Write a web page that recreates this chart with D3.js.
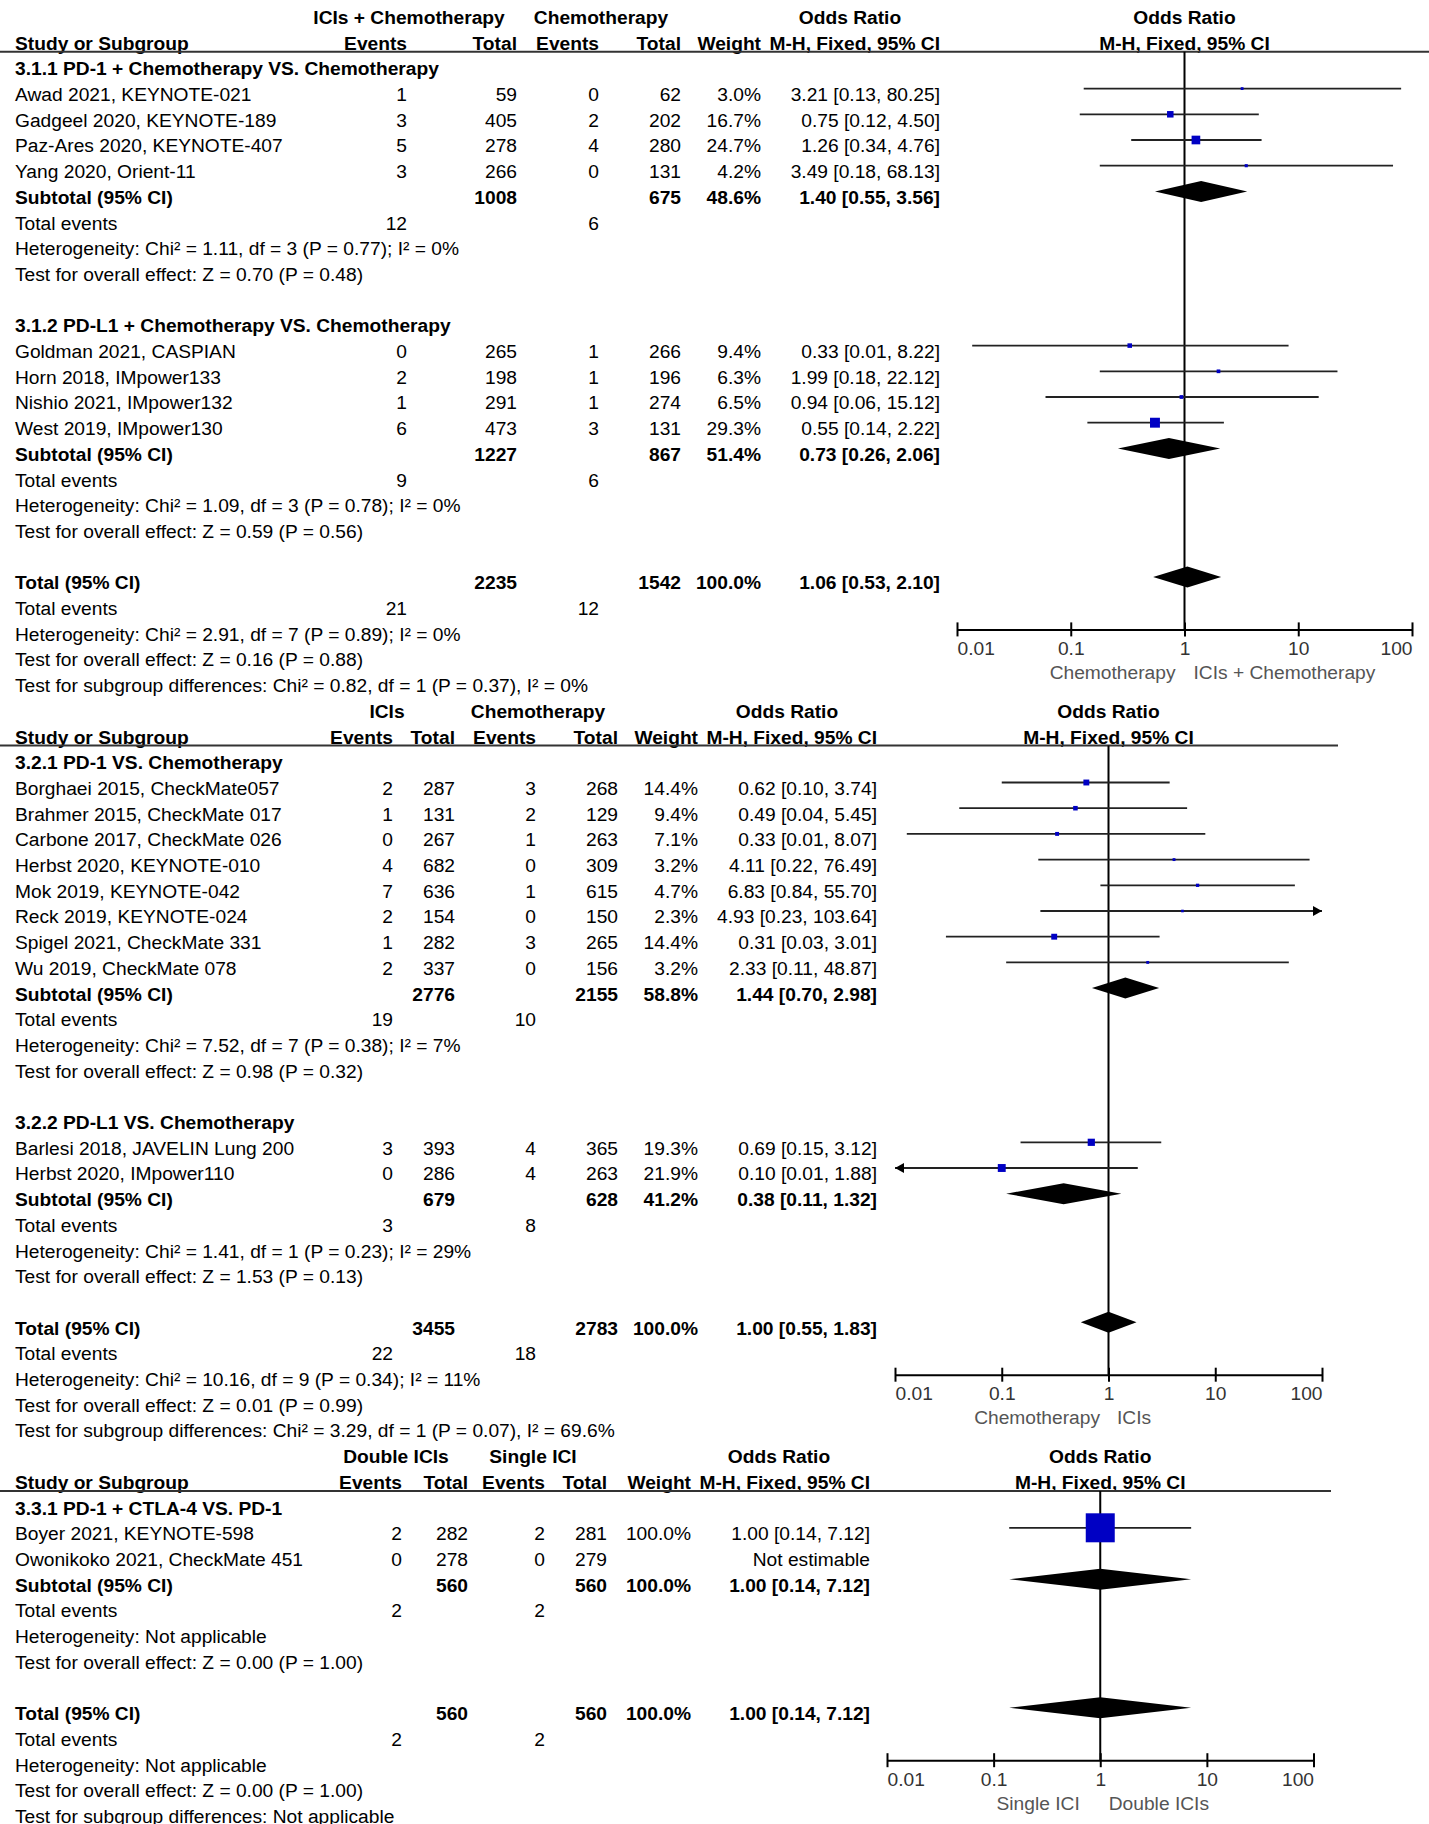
<!DOCTYPE html>
<html><head><meta charset="utf-8">
<script src="https://cdn.jsdelivr.net/npm/d3@7"></script>
<style>
html,body{margin:0;padding:0;background:#fff;}
svg text{font-family:"Liberation Sans",Arial,Helvetica,sans-serif;font-size:19.2px;fill:#000;}
</style></head><body>
<svg id="chart" width="1429" height="1824"></svg>
<script>
// ---------------- DATA ----------------
const axisTicks = [0.01, 0.1, 1, 10, 100];
const axisTickLabels = ["0.01", "0.1", "1", "10", "100"];

// Panel 1
const p1ArmLabels = ["ICIs + Chemotherapy", "Chemotherapy"];
const p1Direction = ["Chemotherapy", "ICIs + Chemotherapy"];
const p1Groups = ["3.1.1 PD-1 + Chemotherapy VS. Chemotherapy", "3.1.2 PD-L1 + Chemotherapy VS. Chemotherapy"];
const p1Studies = [
  {g:0, name:"Awad 2021, KEYNOTE-021", evE:1, totE:59, evC:0, totC:62, w:3.0, or:3.21, lo:0.13, hi:80.25},
  {g:0, name:"Gadgeel 2020, KEYNOTE-189", evE:3, totE:405, evC:2, totC:202, w:16.7, or:0.75, lo:0.12, hi:4.50},
  {g:0, name:"Paz-Ares 2020, KEYNOTE-407", evE:5, totE:278, evC:4, totC:280, w:24.7, or:1.26, lo:0.34, hi:4.76},
  {g:0, name:"Yang 2020, Orient-11", evE:3, totE:266, evC:0, totC:131, w:4.2, or:3.49, lo:0.18, hi:68.13},
  {g:1, name:"Goldman 2021, CASPIAN", evE:0, totE:265, evC:1, totC:266, w:9.4, or:0.33, lo:0.0136, hi:8.22},
  {g:1, name:"Horn 2018, IMpower133", evE:2, totE:198, evC:1, totC:196, w:6.3, or:1.99, lo:0.18, hi:22.12},
  {g:1, name:"Nishio 2021, IMpower132", evE:1, totE:291, evC:1, totC:274, w:6.5, or:0.94, lo:0.06, hi:15.12},
  {g:1, name:"West 2019, IMpower130", evE:6, totE:473, evC:3, totC:131, w:29.3, or:0.55, lo:0.14, hi:2.22}
];
const p1Subtotals = [
  {totE:1008, totC:675, w:48.6, or:1.40, lo:0.55, hi:3.56, evE:12, evC:6,
   het:"Heterogeneity: Chi\u00b2 = 1.11, df = 3 (P = 0.77); I\u00b2 = 0%", test:"Test for overall effect: Z = 0.70 (P = 0.48)"},
  {totE:1227, totC:867, w:51.4, or:0.73, lo:0.26, hi:2.06, evE:9, evC:6,
   het:"Heterogeneity: Chi\u00b2 = 1.09, df = 3 (P = 0.78); I\u00b2 = 0%", test:"Test for overall effect: Z = 0.59 (P = 0.56)"}
];
const p1Overall = {totE:2235, totC:1542, w:100.0, or:1.06, lo:0.53, hi:2.10, evE:21, evC:12,
  het:"Heterogeneity: Chi\u00b2 = 2.91, df = 7 (P = 0.89); I\u00b2 = 0%",
  test:"Test for overall effect: Z = 0.16 (P = 0.88)",
  sub:"Test for subgroup differences: Chi\u00b2 = 0.82, df = 1 (P = 0.37), I\u00b2 = 0%"};

// Panel 2
const p2ArmLabels = ["ICIs", "Chemotherapy"];
const p2Direction = ["Chemotherapy", "ICIs"];
const p2Groups = ["3.2.1 PD-1 VS. Chemotherapy", "3.2.2 PD-L1 VS. Chemotherapy"];
const p2Studies = [
  {g:0, name:"Borghaei 2015, CheckMate057", evE:2, totE:287, evC:3, totC:268, w:14.4, or:0.62, lo:0.10, hi:3.74},
  {g:0, name:"Brahmer 2015, CheckMate 017", evE:1, totE:131, evC:2, totC:129, w:9.4, or:0.49, lo:0.04, hi:5.45},
  {g:0, name:"Carbone 2017, CheckMate 026", evE:0, totE:267, evC:1, totC:263, w:7.1, or:0.33, lo:0.0129, hi:8.07},
  {g:0, name:"Herbst 2020, KEYNOTE-010", evE:4, totE:682, evC:0, totC:309, w:3.2, or:4.11, lo:0.22, hi:76.49},
  {g:0, name:"Mok 2019, KEYNOTE-042", evE:7, totE:636, evC:1, totC:615, w:4.7, or:6.83, lo:0.84, hi:55.70},
  {g:0, name:"Reck 2019, KEYNOTE-024", evE:2, totE:154, evC:0, totC:150, w:2.3, or:4.93, lo:0.23, hi:103.64},
  {g:0, name:"Spigel 2021, CheckMate 331", evE:1, totE:282, evC:3, totC:265, w:14.4, or:0.31, lo:0.03, hi:3.01},
  {g:0, name:"Wu 2019, CheckMate 078", evE:2, totE:337, evC:0, totC:156, w:3.2, or:2.33, lo:0.11, hi:48.87},
  {g:1, name:"Barlesi 2018, JAVELIN Lung 200", evE:3, totE:393, evC:4, totC:365, w:19.3, or:0.69, lo:0.15, hi:3.12},
  {g:1, name:"Herbst 2020, IMpower110", evE:0, totE:286, evC:4, totC:263, w:21.9, or:0.10, lo:0.006, hi:1.88}
];
const p2Subtotals = [
  {totE:2776, totC:2155, w:58.8, or:1.44, lo:0.70, hi:2.98, evE:19, evC:10,
   het:"Heterogeneity: Chi\u00b2 = 7.52, df = 7 (P = 0.38); I\u00b2 = 7%", test:"Test for overall effect: Z = 0.98 (P = 0.32)"},
  {totE:679, totC:628, w:41.2, or:0.38, lo:0.11, hi:1.32, evE:3, evC:8,
   het:"Heterogeneity: Chi\u00b2 = 1.41, df = 1 (P = 0.23); I\u00b2 = 29%", test:"Test for overall effect: Z = 1.53 (P = 0.13)"}
];
const p2Overall = {totE:3455, totC:2783, w:100.0, or:1.00, lo:0.55, hi:1.83, evE:22, evC:18,
  het:"Heterogeneity: Chi\u00b2 = 10.16, df = 9 (P = 0.34); I\u00b2 = 11%",
  test:"Test for overall effect: Z = 0.01 (P = 0.99)",
  sub:"Test for subgroup differences: Chi\u00b2 = 3.29, df = 1 (P = 0.07), I\u00b2 = 69.6%"};

// Panel 3
const p3ArmLabels = ["Double ICIs", "Single ICI"];
const p3Direction = ["Single ICI", "Double ICIs"];
const p3Groups = ["3.3.1 PD-1 + CTLA-4 VS. PD-1"];
const p3Studies = [
  {g:0, name:"Boyer 2021, KEYNOTE-598", evE:2, totE:282, evC:2, totC:281, w:100.0, or:1.00, lo:0.14, hi:7.12},
  {g:0, name:"Owonikoko 2021, CheckMate 451", evE:0, totE:278, evC:0, totC:279, w:null, or:null, lo:null, hi:null}
];
const p3Subtotals = [
  {totE:560, totC:560, w:100.0, or:1.00, lo:0.14, hi:7.12, evE:2, evC:2,
   het:"Heterogeneity: Not applicable", test:"Test for overall effect: Z = 0.00 (P = 1.00)"}
];
const p3Overall = {totE:560, totC:560, w:100.0, or:1.00, lo:0.14, hi:7.12, evE:2, evC:2,
  het:"Heterogeneity: Not applicable",
  test:"Test for overall effect: Z = 0.00 (P = 1.00)",
  sub:"Test for subgroup differences: Not applicable"};

// ---------------- LAYOUT ----------------
const svg = d3.select("#chart");
const lineY = d3.scaleLinear().domain([0, 1]).range([17, 42.7]);
const sizeScale = d3.scaleLinear().domain([0, 100]).range([2, 29]);
const f2 = d3.format(".2f"), f1 = d3.format(".1f");
const ciText = d => f2(d.or) + " [" + f2(d.lo) + ", " + f2(d.hi) + "]";
const MARK_DY = -5.5;

const panels = [
  {arm:p1ArmLabels, dir:p1Direction, groups:p1Groups, studies:p1Studies, subs:p1Subtotals, overall:p1Overall,
   cols:{evE:407, totE:517, evC:599, totC:681, w:761, ci:940}, head:{exp:409, ctrl:601, or:850},
   ruleEnd:1429, range:[957, 1412], dirOff:[-9, 9]},
  {arm:p2ArmLabels, dir:p2Direction, groups:p2Groups, studies:p2Studies, subs:p2Subtotals, overall:p2Overall,
   cols:{evE:393, totE:455, evC:536, totC:618, w:698, ci:877}, head:{exp:387, ctrl:538, or:787},
   ruleEnd:1338, range:[895, 1322], dirOff:[-8.5, 8.5]},
  {arm:p3ArmLabels, dir:p3Direction, groups:p3Groups, studies:p3Studies, subs:p3Subtotals, overall:p3Overall,
   cols:{evE:402, totE:468, evC:545, totC:607, w:691, ci:870}, head:{exp:396, ctrl:533, or:779},
   ruleEnd:1331, range:[887, 1313.5], dirOff:[-20.5, 8.5]}
];

function txt(g, x, L, s, anchor, bold, fill) {
  return g.append("text").attr("x", x).attr("y", lineY(L)).attr("dy", "0.36em")
    .attr("text-anchor", anchor || "start")
    .attr("font-weight", bold ? "bold" : null)
    .style("fill", fill || "#000")
    .text(s);
}

let headerLine = 0;
panels.forEach(p => {
  const g = svg.append("g");
  const c = p.cols;
  const x = d3.scaleLog().domain([0.01, 100]).range(p.range);
  // headers
  txt(g, p.head.exp, headerLine, p.arm[0], "middle", true);
  txt(g, p.head.ctrl, headerLine, p.arm[1], "middle", true);
  txt(g, p.head.or, headerLine, "Odds Ratio", "middle", true);
  txt(g, x(1), headerLine, "Odds Ratio", "middle", true);
  const h2 = headerLine + 1;
  txt(g, 15, h2, "Study or Subgroup", "start", true);
  txt(g, c.evE, h2, "Events", "end", true);
  txt(g, c.totE, h2, "Total", "end", true);
  txt(g, c.evC, h2, "Events", "end", true);
  txt(g, c.totC, h2, "Total", "end", true);
  txt(g, c.w, h2, "Weight", "end", true);
  txt(g, c.ci, h2, "M-H, Fixed, 95% CI", "end", true);
  txt(g, x(1), h2, "M-H, Fixed, 95% CI", "middle", true);
  const ruleY = lineY(h2) + 9;
  g.append("line").attr("x1", 0).attr("x2", p.ruleEnd).attr("y1", ruleY).attr("y2", ruleY)
    .attr("stroke", "#333").attr("stroke-width", 2);

  // build rows
  const rows = [];
  p.groups.forEach((gl, gi) => {
    rows.push({type:"group", label:gl});
    p.studies.filter(s => s.g === gi).forEach(s => rows.push({type:"study", d:s}));
    rows.push({type:"sum", label:"Subtotal (95% CI)", d:p.subs[gi]});
    rows.push({type:"events", d:p.subs[gi]});
    rows.push({type:"note", label:p.subs[gi].het});
    rows.push({type:"note", label:p.subs[gi].test});
    rows.push({type:"blank"});
  });
  rows.push({type:"sum", label:"Total (95% CI)", d:p.overall});
  rows.push({type:"events", d:p.overall});
  rows.push({type:"note", label:p.overall.het});
  rows.push({type:"note", label:p.overall.test});
  rows.push({type:"note", label:p.overall.sub});
  const start = headerLine + 2;
  rows.forEach((r, i) => r.L = start + i);

  const totalRow = rows.find(r => r.type === "sum" && r.label.startsWith("Total"));
  const axisY = lineY(totalRow.L) + 47;

  // plot layer
  const plot = svg.append("g");
  plot.append("line").attr("x1", x(1)).attr("x2", x(1)).attr("y1", ruleY).attr("y2", axisY)
    .attr("stroke", "#000").attr("stroke-width", 2);

  const axis = d3.axisBottom(x).tickValues(axisTicks).tickFormat((d, i) => axisTickLabels[i])
    .tickSizeOuter(0).tickSizeInner(7);
  const ag = plot.append("g").attr("transform", `translate(0,${axisY})`).call(axis);
  ag.select(".domain").attr("stroke", "#000").attr("stroke-width", 2);
  ag.selectAll(".tick line").attr("y1", -7).attr("y2", 7).attr("stroke", "#000").attr("stroke-width", 2);
  ag.selectAll(".tick text")
    .attr("y", 18.5).attr("dy", "0.36em")
    .style("font-family", '"Liberation Sans",Arial,sans-serif').style("font-size", "19.2px").style("fill", "#333")
    .attr("text-anchor", (d, i) => i === 0 ? "start" : (i === axisTicks.length - 1 ? "end" : "middle"));
  plot.append("text").attr("x", x(1) + p.dirOff[0]).attr("y", axisY + 42.5).attr("dy", "0.36em")
    .attr("text-anchor", "end").style("fill", "#555").text(p.dir[0]);
  plot.append("text").attr("x", x(1) + p.dirOff[1]).attr("y", axisY + 42.5).attr("dy", "0.36em")
    .attr("text-anchor", "start").style("fill", "#555").text(p.dir[1]);

  const [dmin, dmax] = x.domain();
  rows.forEach(r => {
    const L = r.L;
    if (r.type === "group") {
      txt(g, 15, L, r.label, "start", true);
    } else if (r.type === "study") {
      const d = r.d;
      txt(g, 15, L, d.name);
      txt(g, c.evE, L, d.evE, "end");
      txt(g, c.totE, L, d.totE, "end");
      txt(g, c.evC, L, d.evC, "end");
      txt(g, c.totC, L, d.totC, "end");
      if (d.w != null) txt(g, c.w, L, f1(d.w) + "%", "end");
      txt(g, c.ci, L, d.or != null ? ciText(d) : "Not estimable", "end");
      if (d.or != null) {
        const ym = lineY(L) + MARK_DY;
        const xl = x(Math.max(d.lo, dmin)), xh = x(Math.min(d.hi, dmax));
        plot.append("line").attr("x1", xl).attr("x2", xh).attr("y1", ym).attr("y2", ym)
          .attr("stroke", "#222").attr("stroke-width", 1.8);
        if (d.lo < dmin) {
          plot.append("path").attr("d", `M${xl},${ym} L${xl + 9},${ym - 5} L${xl + 9},${ym + 5} Z`).attr("fill", "#000");
        }
        if (d.hi > dmax) {
          plot.append("path").attr("d", `M${xh},${ym} L${xh - 9},${ym - 5} L${xh - 9},${ym + 5} Z`).attr("fill", "#000");
        }
        const s = sizeScale(d.w);
        plot.append("rect").attr("x", x(d.or) - s / 2).attr("y", ym - s / 2)
          .attr("width", s).attr("height", s).attr("fill", "#0000c4");
      }
    } else if (r.type === "sum") {
      const d = r.d;
      txt(g, 15, L, r.label, "start", true);
      txt(g, c.totE, L, d.totE, "end", true);
      txt(g, c.totC, L, d.totC, "end", true);
      txt(g, c.w, L, f1(d.w) + "%", "end", true);
      txt(g, c.ci, L, ciText(d), "end", true);
      const ym = lineY(L) + MARK_DY;
      const pts = [[x(d.lo), ym], [x(d.or), ym - 10.5], [x(d.hi), ym], [x(d.or), ym + 10.5]];
      plot.append("path").attr("d", "M" + pts.map(q => q.join(",")).join("L") + "Z").attr("fill", "#000");
    } else if (r.type === "events") {
      txt(g, 15, L, "Total events");
      txt(g, c.evE, L, r.d.evE, "end");
      txt(g, c.evC, L, r.d.evC, "end");
    } else if (r.type === "note") {
      txt(g, 15, L, r.label);
    }
  });
  headerLine = start + rows.length;
});
</script>
</body></html>
